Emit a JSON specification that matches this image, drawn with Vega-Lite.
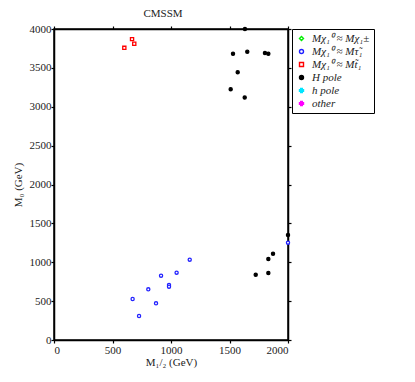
{
  "$schema": "https://vega.github.io/schema/vega-lite/v6.json",
  "autosize": {"type": "none"},
  "padding": {"left": 54, "top": 29, "right": 127, "bottom": 42},
  "width": 234,
  "height": 311,
  "background": "white",
  "title": {"text": "CMSSM", "font": "Liberation Serif", "fontSize": 11, "fontWeight": "normal", "color": "#222", "anchor": "middle", "offset": 4, "dx": -8},
  "config": {
    "view": {"stroke": "black", "strokeWidth": 1.5},
    "axis": {
      "labelFont": "Liberation Serif", "labelFontSize": 11, "labelColor": "#222",
      "titleFont": "Liberation Serif", "titleFontSize": 11, "titleFontWeight": "normal", "titleColor": "#222",
      "grid": false, "domainColor": "black", "domainWidth": 1.5, "tickColor": "black", "tickSize": 3, "tickWidth": 1.2, "format": "d"
    }
  },
  "resolve": {"axis": {"x": "independent", "y": "independent"}},
  "datasets": {
    "pts": [
      {"m12": 601, "m0": 3758, "cat": "c3"},
      {"m12": 667, "m0": 3870, "cat": "c3"},
      {"m12": 686, "m0": 3810, "cat": "c3"},
      {"m12": 1632, "m0": 4000, "cat": "c4"},
      {"m12": 1530, "m0": 3681, "cat": "c4"},
      {"m12": 1652, "m0": 3707, "cat": "c4"},
      {"m12": 1803, "m0": 3690, "cat": "c4"},
      {"m12": 1832, "m0": 3681, "cat": "c4"},
      {"m12": 1570, "m0": 3445, "cat": "c4"},
      {"m12": 1510, "m0": 3226, "cat": "c4"},
      {"m12": 1630, "m0": 3118, "cat": "c4"},
      {"m12": 672, "m0": 527, "cat": "c2"},
      {"m12": 727, "m0": 309, "cat": "c2"},
      {"m12": 806, "m0": 652, "cat": "c2"},
      {"m12": 872, "m0": 472, "cat": "c2"},
      {"m12": 915, "m0": 827, "cat": "c2"},
      {"m12": 983, "m0": 708, "cat": "c2"},
      {"m12": 983, "m0": 686, "cat": "c2"},
      {"m12": 1048, "m0": 866, "cat": "c2"},
      {"m12": 1160, "m0": 1033, "cat": "c2"},
      {"m12": 2000, "m0": 1252, "cat": "c2"},
      {"m12": 1724, "m0": 840, "cat": "c4"},
      {"m12": 1832, "m0": 862, "cat": "c4"},
      {"m12": 1832, "m0": 1042, "cat": "c4"},
      {"m12": 1872, "m0": 1110, "cat": "c4"},
      {"m12": 2000, "m0": 1351, "cat": "c4"}
    ]
  },
  "data": {"name": "pts"},
  "layer": [
    {
      "mark": {"type": "point", "opacity": 0},
      "encoding": {
        "x": {"field": "m12", "type": "quantitative", "scale": {"domain": [0, 2000], "nice": false},
              "axis": {"orient": "top", "values": [0, 500, 1000, 1500, 2000], "labels": false, "title": null}},
        "y": {"field": "m0", "type": "quantitative", "scale": {"domain": [0, 4000], "nice": false},
              "axis": {"orient": "right", "values": [0, 500, 1000, 1500, 2000, 2500, 3000, 3500, 4000], "labels": false, "title": null}}
      }
    },
    {
      "mark": {"type": "point", "size": 10, "strokeWidth": 1.3, "opacity": 1},
      "encoding": {
        "x": {"field": "m12", "type": "quantitative", "scale": {"domain": [0, 2000], "nice": false},
              "axis": {"orient": "bottom", "values": [0, 500, 1000, 1500, 2000], "title": "M₁/₂ (GeV)", "titlePadding": 1, "labelPadding": 1}},
        "y": {"field": "m0", "type": "quantitative", "scale": {"domain": [0, 4000], "nice": false},
              "axis": {"orient": "left", "values": [0, 500, 1000, 1500, 2000, 2500, 3000, 3500, 4000], "title": "M₀ (GeV)", "titlePadding": 6, "labelPadding": 0}},
        "shape": {"field": "cat", "type": "nominal",
                  "scale": {"domain": ["c1", "c2", "c3", "c4", "c5", "c6"], "range": ["diamond", "circle", "square", "circle", "cross", "cross"]},
                  "legend": {
                    "orient": "none", "legendX": 238, "legendY": 0, "title": null,
                    "strokeColor": "black", "fillColor": "white", "padding": 4,
                    "labelFont": "Liberation Serif", "labelFontSize": 11, "labelFontStyle": "italic", "labelColor": "#222",
                    "symbolSize": 16, "symbolStrokeWidth": 1.4, "rowPadding": 1, "labelOffset": 5, "labelLimit": 120,
                    "labelExpr": "datum.value == 'c1' ? 'Mχ₁⁰ ≈ Mχ₁±' : datum.value == 'c2' ? 'Mχ₁⁰ ≈ Mτ̃₁' : datum.value == 'c3' ? 'Mχ₁⁰ ≈ Mt̃₁' : datum.value == 'c4' ? 'H pole' : datum.value == 'c5' ? 'h pole' : 'other'"
                  }},
        "stroke": {"field": "cat", "type": "nominal",
                   "scale": {"domain": ["c1", "c2", "c3", "c4", "c5", "c6"], "range": ["#00ee00", "#2222ff", "#ff0000", "#000000", "#00e5ff", "#ff00ff"]},
                   "legend": null},
        "fill": {"field": "cat", "type": "nominal",
                 "scale": {"domain": ["c1", "c2", "c3", "c4", "c5", "c6"], "range": ["white", "white", "white", "#000000", "#00e5ff", "#ff00ff"]},
                 "legend": null}
      }
    }
  ]
}
